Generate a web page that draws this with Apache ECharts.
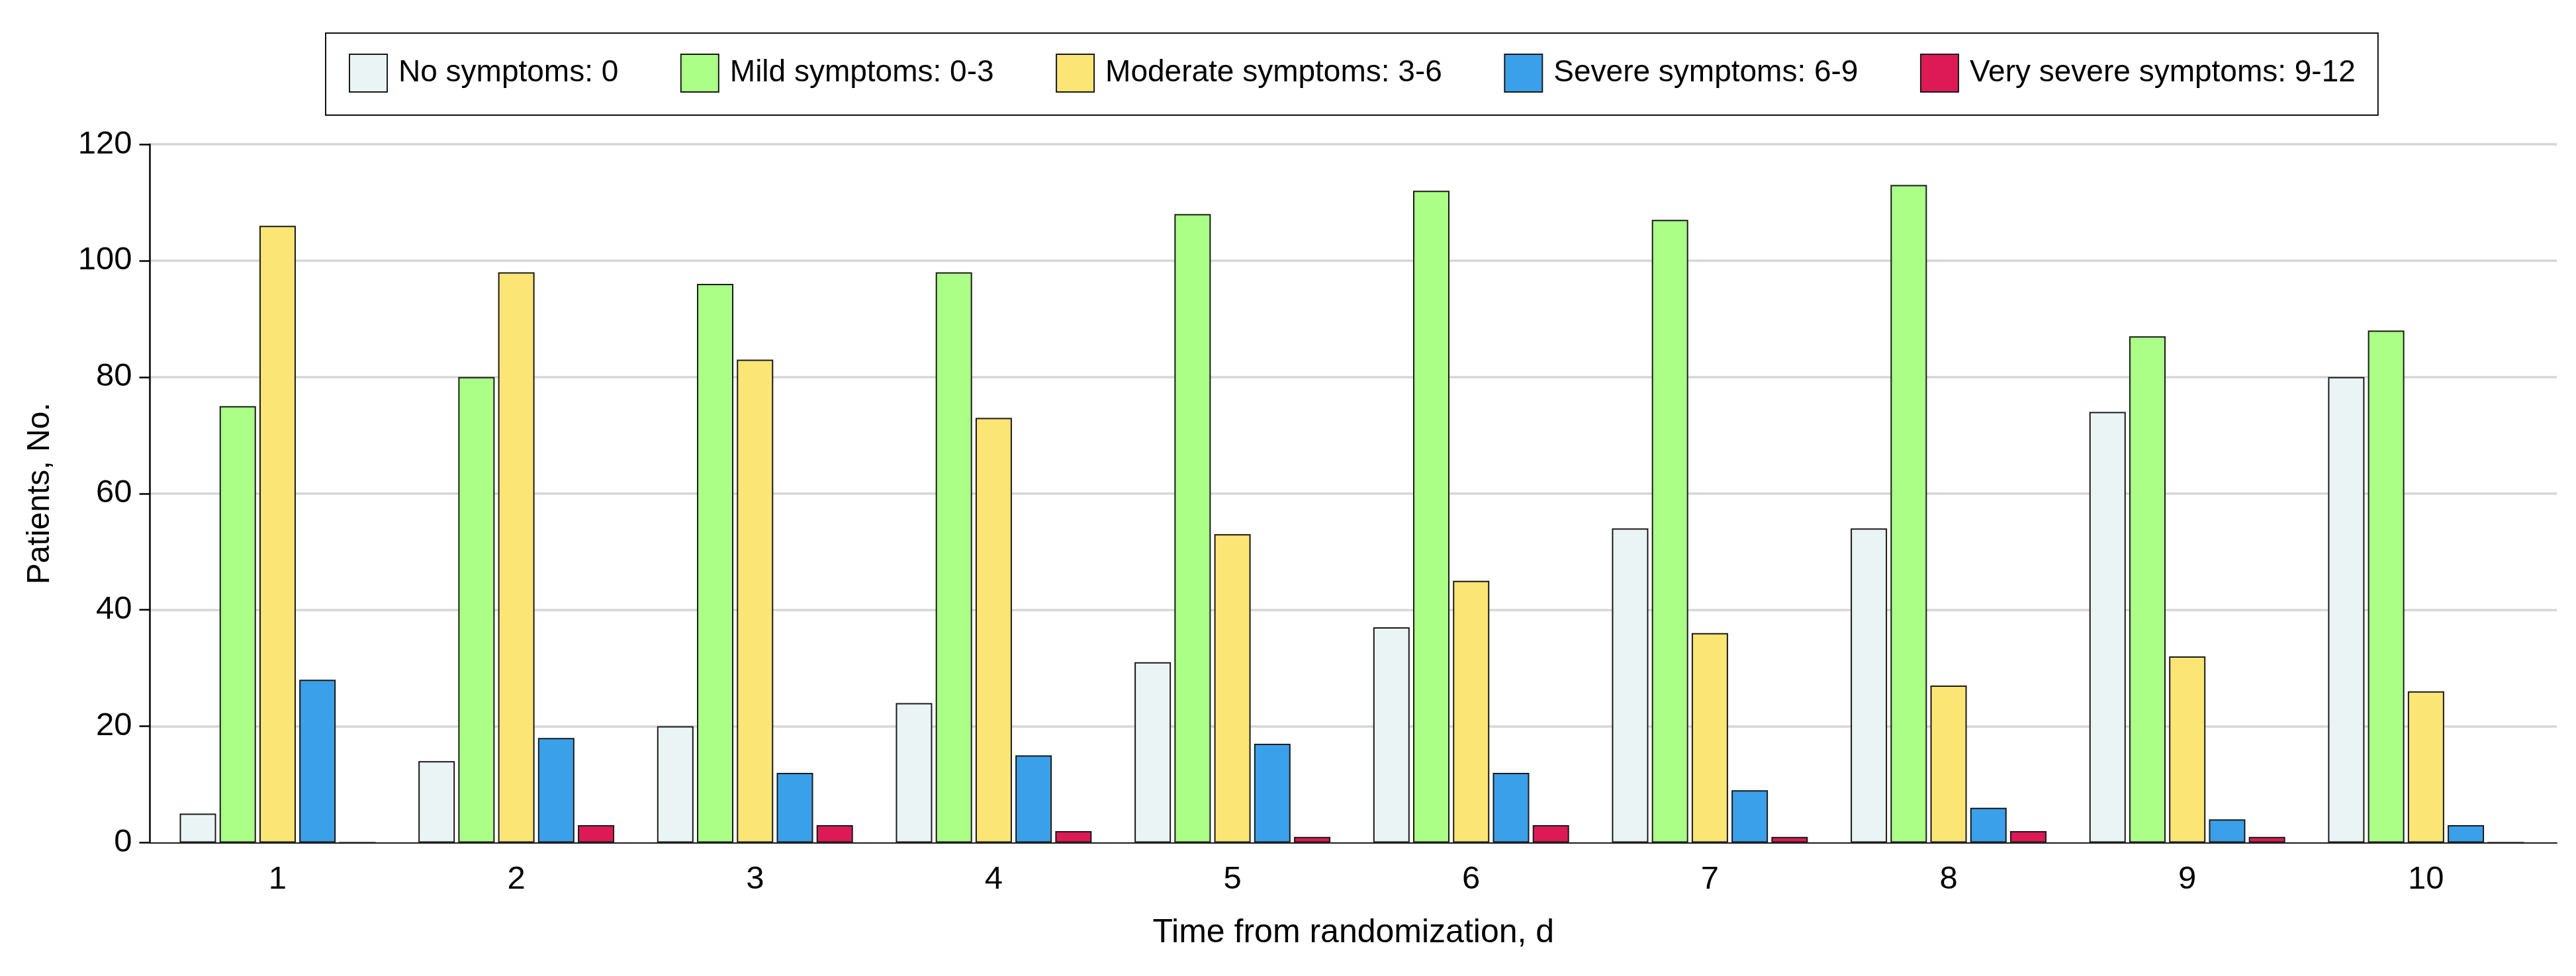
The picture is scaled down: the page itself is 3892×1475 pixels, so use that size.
<!DOCTYPE html>
<html>
<head>
<meta charset="utf-8">
<script src="https://cdn.jsdelivr.net/npm/echarts@6/dist/echarts.min.js"></script>
<style>
html,body{margin:0;padding:0;background:#fff;}
#chart{width:3892px;height:1475px;}
</style>
</head>
<body>
<div id="chart"></div>
<script>
const days = [1, 2, 3, 4, 5, 6, 7, 8, 9, 10];
const noSymptoms = [5, 14, 20, 24, 31, 37, 54, 54, 74, 80];
const mildSymptoms = [75, 80, 96, 98, 108, 112, 107, 113, 87, 88];
const moderateSymptoms = [106, 98, 83, 73, 53, 45, 36, 27, 32, 26];
const severeSymptoms = [28, 18, 12, 15, 17, 12, 9, 6, 4, 3];
const verySevereSymptoms = [0, 3, 3, 2, 1, 3, 1, 2, 1, 0];
const seriesNames = ['No symptoms: 0', 'Mild symptoms: 0-3', 'Moderate symptoms: 3-6', 'Severe symptoms: 6-9', 'Very severe symptoms: 9-12'];
const seriesColors = ['#EAF4F4', '#ABFF87', '#FBE574', '#3BA0EA', '#DE1A56'];
const yTicks = [0, 20, 40, 60, 80, 100, 120];

const FONT = "'Liberation Sans', Arial, sans-serif";
const allValues = [noSymptoms, mildSymptoms, moderateSymptoms, severeSymptoms, verySevereSymptoms];

const chart = echarts.init(document.getElementById('chart'), null, {renderer: 'canvas', devicePixelRatio: 1});
chart.setOption({
  backgroundColor: '#fff',
  animation: false,
  textStyle: {fontFamily: FONT, color: '#000'},
  legend: {
    left: 492,
    top: 50,
    orient: 'horizontal',
    padding: [31, 34, 34, 35],
    itemWidth: 57,
    itemHeight: 57,
    itemGap: 93.5,
    icon: 'rect',
    borderColor: '#111',
    borderWidth: 2,
    textStyle: {fontFamily: FONT, fontSize: 46, color: '#000', padding: [0, 0, 0, 12]},
    data: seriesNames
  },
  grid: {left: 226.5, right: 29, top: 218, bottom: 201.5, containLabel: false},
  xAxis: {
    type: 'value',
    min: 0.465,
    max: 10.548,
    name: 'Time from randomization, d',
    nameLocation: 'middle',
    nameGap: 112,
    nameTextStyle: {fontFamily: FONT, fontSize: 50, color: '#000'},
    axisLine: {show: true, lineStyle: {color: '#2a2a2a', width: 2}},
    axisTick: {show: false},
    splitLine: {show: false},
    axisLabel: {
      customValues: days,
      fontFamily: FONT, fontSize: 49, color: '#000', margin: 31
    }
  },
  yAxis: {
    type: 'value',
    min: yTicks[0],
    max: yTicks[yTicks.length - 1],
    interval: 20,
    name: 'Patients, No.',
    nameLocation: 'middle',
    nameGap: 142,
    nameRotate: 90,
    nameTextStyle: {fontFamily: FONT, fontSize: 48, color: '#000'},
    axisLine: {show: true, lineStyle: {color: '#000', width: 2.5}},
    axisTick: {show: true, length: 16, lineStyle: {color: '#000', width: 2.5}},
    axisLabel: {fontFamily: FONT, fontSize: 49, color: '#000', margin: 27},
    splitLine: {show: true, lineStyle: {color: '#d6d6d6', width: 3.5}}
  },
  series: seriesNames.map((name, k) => ({
    name: name,
    type: 'bar',
    barWidth: 55,
    barGap: '9.5%',
    itemStyle: {color: seriesColors[k], borderColor: '#1a1a1a', borderWidth: 2},
    data: days.map((d, i) => [d, allValues[k][i]])
  }))
});
</script>
</body>
</html>
